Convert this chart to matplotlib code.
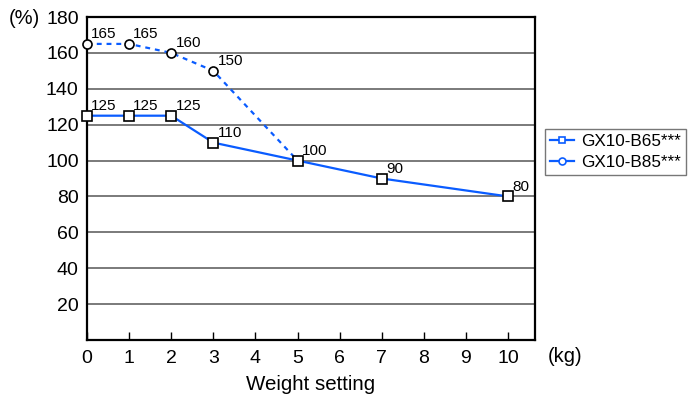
import matplotlib
matplotlib.use("Agg")
import matplotlib.pyplot as plt
from matplotlib.lines import Line2D

plt.rcParams['font.family'] = ['Liberation Sans', 'DejaVu Sans']

x_b65 = [0, 1, 2, 3, 5, 7, 10]
y_b65 = [125, 125, 125, 110, 100, 90, 80]
x_b85_dash = [0, 1, 2, 3, 5]
y_b85_dash = [165, 165, 160, 150, 100]
series_names = ["GX10-B65***", "GX10-B85***"]
x_ticks = [0, 1, 2, 3, 4, 5, 6, 7, 8, 9, 10]
y_ticks = [20, 40, 60, 80, 100, 120, 140, 160, 180]

blue = '#0a5cff'

fig = plt.figure(figsize=(6.91, 3.96), dpi=100)
ax = fig.add_axes([87/691, 1 - 340/396, (535-87)/691, (340-17)/396])
ax.set_xlim(0, 10.64)
ax.set_ylim(0, 180)

for yv in y_ticks[:-1]:
    ax.axhline(yv, color='#707070', lw=1.3, zorder=1)

ax.plot(x_b85_dash, y_b85_dash, color=blue, lw=1.6, ls=(0, (2.2, 2.2)), zorder=3)
ax.plot(x_b65, y_b65, color=blue, lw=1.6, zorder=3)
ax.plot(x_b65, y_b65, ls='none', marker='s', ms=6.5, mfc='white', mec='black', mew=1.2, zorder=4, clip_on=False)
ax.plot(x_b85_dash[:-1], y_b85_dash[:-1], ls='none', marker='o', ms=6.5, mfc='white', mec='black', mew=1.2, zorder=4, clip_on=False)

for xv, yv in zip(x_b85_dash[:-1], y_b85_dash[:-1]):
    ax.annotate(str(yv), (xv, yv), xytext=(3, 2), textcoords='offset points', fontsize=11, ha='left', va='bottom')
for xv, yv in zip(x_b65, y_b65):
    ax.annotate(str(yv), (xv, yv), xytext=(3, 2), textcoords='offset points', fontsize=11, ha='left', va='bottom')

ax.set_xticks(x_ticks)
ax.set_xticklabels([str(t) for t in x_ticks], fontsize=14)
ax.set_yticks(y_ticks)
ax.set_yticklabels([str(t) for t in y_ticks], fontsize=14)
ax.tick_params(axis='x', direction='in', length=6, width=1, pad=7)
ax.tick_params(axis='y', length=0, pad=6)
for s in ax.spines.values():
    s.set_linewidth(1.6)
    s.set_color('black')

ax.set_xlabel("Weight setting", fontsize=14.8, labelpad=6)
fig.text(9/691, 1 - 19/396, "(%)", fontsize=14.5, ha='left', va='center')
fig.text(548/691, 1 - 356/396, "(kg)", fontsize=14.5, ha='left', va='center')

handles = [Line2D([], [], color=blue, lw=1.6, marker='s', ms=5, mfc='white', mec=blue, mew=1.2),
           Line2D([], [], color=blue, lw=1.6, marker='o', ms=5, mfc='white', mec=blue, mew=1.2)]
leg = fig.legend(handles, series_names, loc='upper left', bbox_to_anchor=(545/691, 1 - 129/396),
                 fontsize=12.3, frameon=True, fancybox=False, edgecolor='#555555',
                 handlelength=1.4, handletextpad=0.4, borderpad=0.3, labelspacing=0.35, borderaxespad=0)
leg.get_frame().set_linewidth(1.0)

fig.savefig('out.png', dpi=100)
